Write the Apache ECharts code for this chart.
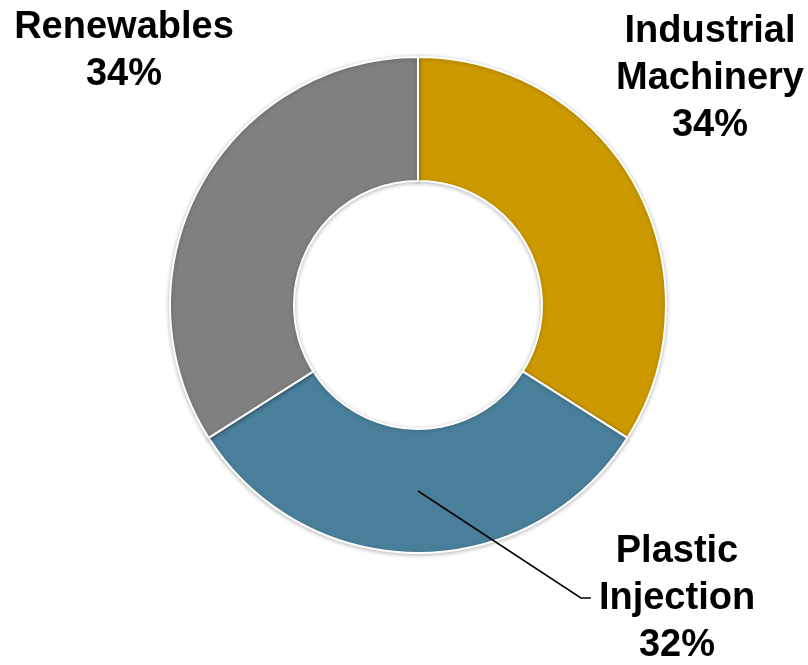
<!DOCTYPE html>
<html>
<head>
<meta charset="utf-8">
<script src="https://cdn.jsdelivr.net/npm/echarts@6/dist/echarts.min.js"></script>
<style>
html,body{margin:0;padding:0;background:#fff;}
#chart{width:808px;height:665px;}
</style>
</head>
<body>
<div id="chart"></div>
<script>
var categories = ['Industrial Machinery', 'Plastic Injection', 'Renewables'];
var values = [34, 32, 34];
var colors = ['#CC9900', '#4A7F9B', '#808080'];

var CX = 418, CY = 305, R0 = 124, R1 = 248;
var labelPos = [
  {x: 710, y: 79},
  {x: 677, y: 599},
  {x: 124, y: 51}
];

var total = values.reduce(function (a, b) { return a + b; }, 0);
function midAngle(i) {
  var c = 0;
  for (var k = 0; k < i; k++) c += values[k];
  return (c + values[i] / 2) / total * 2 * Math.PI;
}

function buildData(withColor) {
  return categories.map(function (c, i) {
    return {
      name: c,
      value: values[i],
      itemStyle: {color: withColor ? colors[i] : 'rgba(0,0,0,0)'},
      labelLine: {show: i === 1}
    };
  });
}

var chart = echarts.init(document.getElementById('chart'));
chart.setOption({
  animation: false,
  backgroundColor: '#fff',
  series: [{
    type: 'pie',
    z: 2,
    center: [CX, CY],
    radius: [R0, R1],
    startAngle: 90,
    clockwise: true,
    silent: true,
    data: buildData(true),
    itemStyle: {
      borderColor: '#fff',
      borderWidth: 2,
      shadowBlur: 4,
      shadowColor: 'rgba(0,0,0,0.25)',
      shadowOffsetY: 1
    },
    label: {show: false},
    labelLine: {show: false}
  }, {
    type: 'pie',
    z: 5,
    center: [CX, CY],
    radius: [R0, R1],
    startAngle: 90,
    clockwise: true,
    silent: true,
    avoidLabelOverlap: false,
    data: buildData(false),
    itemStyle: {borderWidth: 0},
    label: {
      show: true,
      position: 'outside',
      formatter: function (p) {
        return p.name.replace(' ', '\n') + '\n' + Math.round(p.percent) + '%';
      },
      fontFamily: 'Liberation Sans',
      fontWeight: 'bold',
      fontSize: 38,
      lineHeight: 47,
      color: '#000',
      align: 'center'
    },
    labelLine: {
      lineStyle: {color: '#000', width: 1.5}
    },
    labelLayout: function (p) {
      var pos = labelPos[p.dataIndex];
      var out = {x: pos.x, y: pos.y, align: 'center', verticalAlign: 'middle'};
      if (p.dataIndex === 1) {
        var a = midAngle(1);
        var rm = (R0 + R1) / 2;
        var sx = CX + rm * Math.sin(a), sy = CY - rm * Math.cos(a);
        var lx = pos.x - p.labelRect.width / 2 - 8;
        var ly = pos.y - 1;
        out.labelLinePoints = [[sx, sy], [lx - 10, ly], [lx, ly]];
      }
      return out;
    }
  }]
});
</script>
</body>
</html>
